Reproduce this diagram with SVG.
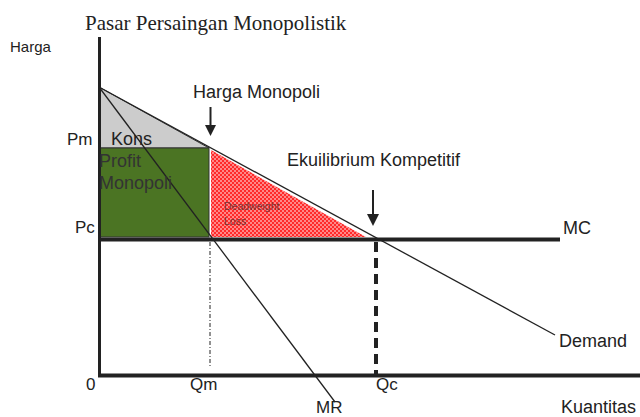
<svg xmlns="http://www.w3.org/2000/svg" width="640" height="417" viewBox="0 0 640 417">
<style>
.t{font-family:"Liberation Sans",Arial,sans-serif;font-size:17px;fill:#222}
.ln{stroke:#222;fill:none}
</style>
<defs>
<pattern id="dots" width="4" height="4" patternUnits="userSpaceOnUse">
<rect width="4" height="4" fill="#ff2a2a"/>
<circle cx="1" cy="1" r="0.8" fill="#fff"/>
<circle cx="3" cy="3" r="0.8" fill="#fff"/>
</pattern>
</defs>
<rect width="640" height="417" fill="#fff"/>
<text x="85" y="30" style="font-family:'Liberation Serif','Times New Roman',serif;font-size:21px;fill:#222">Pasar Persaingan Monopolistik</text>
<g id="areas">
<polygon id="kons" points="99,87 209,148 99,148" fill="#cccccc" stroke="#333" stroke-width="1"/>
<rect id="profit" x="99" y="148" width="110" height="89" fill="#4b7423" stroke="#333" stroke-width="1"/>
<polygon id="deadweight" points="211,150 366,237 211,237" fill="url(#dots)"/>
</g>
<g id="connectors">
<line class="ln" x1="99" y1="87" x2="555" y2="335" stroke-width="1.3"/>
<line class="ln" x1="99" y1="87" x2="335" y2="402" stroke-width="1.3"/>
<line class="ln" x1="99" y1="239.5" x2="560" y2="239.5" stroke-width="4"/>
<line class="ln" x1="99.5" y1="37" x2="99.5" y2="377" stroke-width="3"/>
<line class="ln" x1="98" y1="375.5" x2="640" y2="375.5" stroke-width="4"/>
<line class="ln" x1="210" y1="242" x2="210" y2="366" stroke-width="1" stroke-dasharray="4 2 1 2"/>
<line class="ln" x1="376" y1="242" x2="376" y2="374" stroke-width="4" stroke-dasharray="10 6"/>
<line class="ln" x1="210.5" y1="107" x2="210.5" y2="126" stroke-width="2"/>
<polygon points="205,125 216,125 210.5,136" fill="#222"/>
<line class="ln" x1="373" y1="190" x2="373" y2="215" stroke-width="2"/>
<polygon points="367,214 379,214 373,226" fill="#222"/>
</g>
<g id="labels">
<text class="t" x="10" y="52" style="font-size:15px">Harga</text>
<text class="t" x="193" y="98" style="font-size:18px">Harga Monopoli</text>
<text class="t" x="67" y="145">Pm</text>
<text class="t" x="111" y="145" style="font-size:18px">Kons</text>
<text class="t" x="99" y="167" style="fill:#333;font-size:18px">Profit</text>
<text class="t" x="99" y="189" style="fill:#333;font-size:18px">Monopoli</text>
<text class="t" x="75" y="233">Pc</text>
<text class="t" x="287" y="166" style="font-size:18px">Ekuilibrium Kompetitif</text>
<text class="t" x="224" y="210" style="font-size:10.5px;fill:#733">Deadweight</text>
<text class="t" x="224" y="225" style="font-size:10.5px;fill:#733">Loss</text>
<text class="t" x="563" y="234" style="font-size:18px">MC</text>
<text class="t" x="559" y="347" style="font-size:18px">Demand</text>
<text class="t" x="86" y="390">0</text>
<text class="t" x="190" y="390">Qm</text>
<text class="t" x="376" y="390">Qc</text>
<text class="t" x="316" y="413">MR</text>
<text class="t" x="561" y="413" style="font-size:18px">Kuantitas</text>
</g>
</svg>
